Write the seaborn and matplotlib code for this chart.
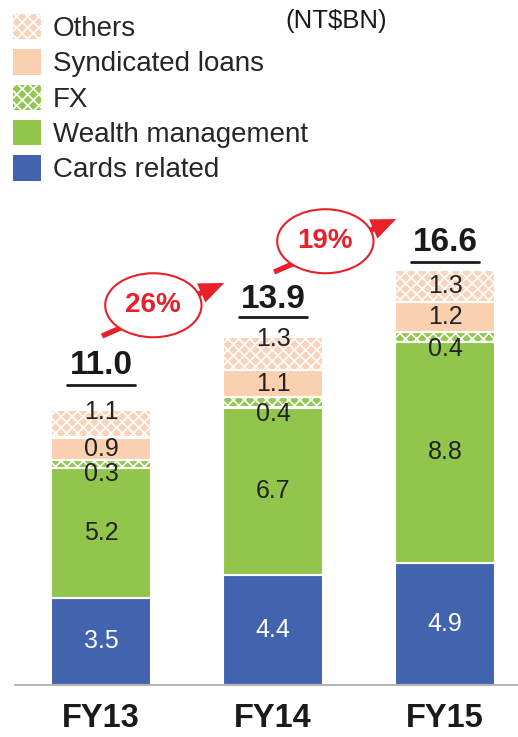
import matplotlib
matplotlib.use("Agg")
import matplotlib.pyplot as plt
from matplotlib.patches import Patch, Ellipse
import seaborn as sns
import numpy as np

# data (NT$BN)
years = ["FY13", "FY14", "FY15"]
cards = [3.5, 4.4, 4.9]
wealth = [5.2, 6.7, 8.8]
fx = [0.3, 0.4, 0.4]
syndicated = [0.9, 1.1, 1.2]
others = [1.1, 1.3, 1.3]
totals = [11.0, 13.9, 16.6]
growth = ["26%", "19%"]

layer_names = ["Cards related", "Wealth management", "FX", "Syndicated loans", "Others"]
layer_vals = [cards, wealth, fx, syndicated, others]
layer_colors = ["#4264AE", "#92C54C", "#92C850", "#FBD0B0", "#FAD3BA"]
layer_hatch = [None, None, "xxx", None, "xxx"]
label_colors = ["white", "#222222", "#222222", "#222222", "#222222"]

# layout tweaks (data units / fractions)
total_text_lift = [1.76, 1.5, 1.1]
total_line_lift = [1.0, 0.8, 0.3]
others_label_frac = [0.93, 0.94, 0.5]
arrow_lift = [2.96, 2.62]

sns.set_style("white")
plt.rcParams["font.family"] = ["Liberation Sans", "DejaVu Sans"]
plt.rcParams["hatch.linewidth"] = 1.2

fig = plt.figure(figsize=(5.18, 7.37), dpi=100)
ax = fig.add_axes([15 / 518, 52 / 737, 503 / 518, 685 / 737])

bottom = np.zeros(len(years))
for name, vals, col, h in zip(layer_names, layer_vals, layer_colors, layer_hatch):
    sns.barplot(x=years, y=vals, bottom=bottom, color=col, width=0.58,
                hatch=h, edgecolor="white", linewidth=1.5, ax=ax, saturation=1)
    bottom = bottom + np.array(vals)

# segment labels
for i in range(len(years)):
    b = 0.0
    for k, vals in enumerate(layer_vals):
        v = vals[i]
        if layer_names[k] == "FX":
            y = b - 0.27
        elif layer_names[k] == "Others":
            y = b + v * others_label_frac[i]
        else:
            y = b + v / 2
        ax.text(i, y, f"{v:.1f}", ha="center", va="center", fontsize=18,
                color=label_colors[k], zorder=5)
        b += v

# totals, underlined
for i, t in enumerate(totals):
    ax.text(i, t + total_text_lift[i], f"{t:.1f}", ha="center", va="center",
            fontsize=24, fontweight="bold", color="#1a1a1a")
    yl = t + total_line_lift[i]
    ax.plot([i - 0.2, i + 0.2], [yl, yl], color="#1a1a1a", lw=2)

# growth arrows with ellipses
red = "#E8202A"
for i, g in enumerate(growth):
    t = totals[i]
    x0, y0 = i + 0.006, t + arrow_lift[i]
    x1, y1 = x0 + 0.71, y0 + 2.12
    ax.annotate("", xy=(x1, y1), xytext=(x0, y0),
                arrowprops=dict(arrowstyle="simple,head_length=0.9,head_width=0.75,tail_width=0.19",
                                mutation_scale=20, fc=red, ec="none", lw=0,
                                shrinkA=0, shrinkB=0))
    cx = x0 + 0.42 * (x1 - x0)
    cy = y0 + 0.58 * (y1 - y0)
    ax.add_patch(Ellipse((cx, cy), 0.56, 2.56, facecolor="white",
                         edgecolor=red, lw=1.5, zorder=6))
    ax.text(cx, cy, g, ha="center", va="center", fontsize=20,
            fontweight="bold", color=red, zorder=7)

ax.set_xlim(-0.5, 2.424)
ax.set_ylim(0, 27.4)
ax.set_yticks([])
ax.set_xlabel("")
for s in ["left", "right", "top"]:
    ax.spines[s].set_visible(False)
ax.spines["bottom"].set_color("#A6A6A6")
ax.spines["bottom"].set_linewidth(1.2)
ax.set_xticks([0, 1, 2])
ax.set_xticklabels(years, fontsize=23.5, fontweight="bold", color="#1a1a1a")
ax.tick_params(axis="x", which="major", length=0, pad=13)
ax.set_xticks([-0.5, 0.5, 1.5], minor=True)
ax.tick_params(axis="x", which="minor", direction="in", length=6,
               color="#A6A6A6", width=1.2)

# legend
handles = [Patch(facecolor=c, hatch=h, edgecolor="white", lw=0)
           for c, h in zip(layer_colors, layer_hatch)][::-1]
fig.legend(handles, layer_names[::-1], loc="upper left",
           bbox_to_anchor=(13 / 518, 1 - 14 / 737), frameon=False,
           fontsize=20, handlelength=1.0, handleheight=1.02,
           handletextpad=0.43, labelspacing=0.26, borderpad=0,
           borderaxespad=0)
fig.text(285 / 518, 1 - 21 / 737, "(NT$BN)", fontsize=18.5, va="center",
         color="#1a1a1a")

fig.savefig("out.png", dpi=100)
